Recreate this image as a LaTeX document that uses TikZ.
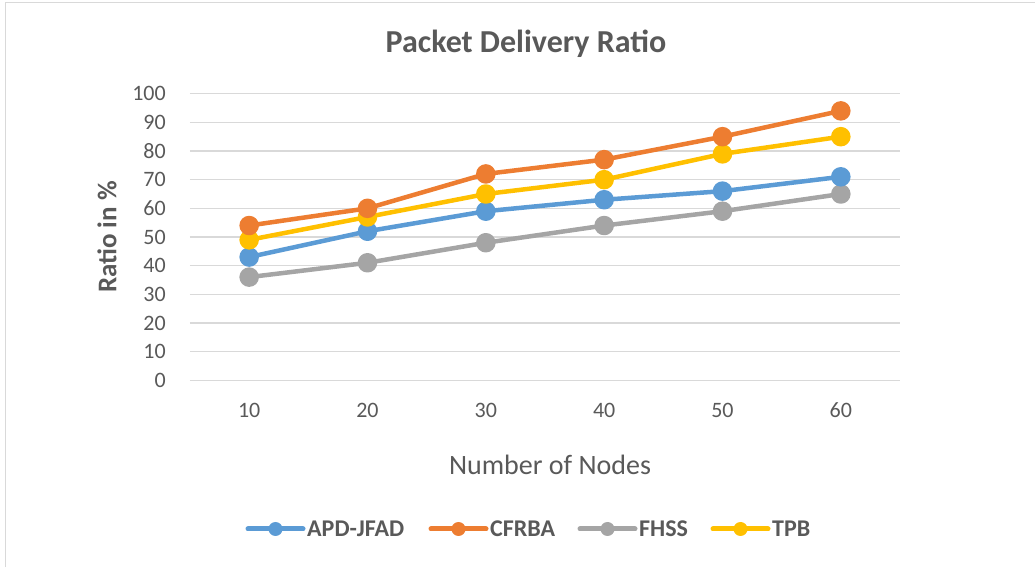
\documentclass[tikz,border=0pt]{standalone}
\usepackage{fontspec}
\setmainfont{Carlito}
\usetikzlibrary{positioning}

\definecolor{apdblue}{HTML}{5B9BD5}
\definecolor{cfrorange}{HTML}{ED7D31}
\definecolor{fhsgray}{HTML}{A5A5A5}
\definecolor{tpbyellow}{HTML}{FFC000}
\definecolor{gridgray}{HTML}{D9D9D9}
\definecolor{textgray}{HTML}{595959}

\tikzset{
  series/.style={line width=4.5pt, line cap=round, line join=round,
    mark=*, mark size=7.5pt, mark options={solid, fill=#1, draw=#1}, draw=#1},
  ticklabel/.style={text=textgray, font=\fontsize{22}{26}\selectfont, inner sep=0pt},
  legendtext/.style={text=textgray, font=\fontsize{24}{28}\selectfont\bfseries,
    inner sep=0pt, anchor=west}
}

\begin{document}
\begin{tikzpicture}[x=1pt, y=1pt]
    \useasboundingbox (0,0) rectangle (1035,567);
    % --- chart frame ---
    \draw[gridgray, line width=1.5pt] (5.5,0) -- (5.5,564.5) -- (1035,564.5);

    % --- title and axis titles ---
    \node[text=textgray, font=\fontsize{32}{36}\selectfont\bfseries] (title) at (526,523) {Packet Delivery Ratio};
    \node[text=textgray, font=\fontsize{27}{31}\selectfont\bfseries, rotate=90] (ylabel) at (107,330) {Ratio in \%};
    \node[text=textgray, font=\fontsize{28}{32}\selectfont] (xlabel) at (550,102) {Number of Nodes};

    \begin{scope}[shift={(130.83,186.7)}, x=11.833pt, y=2.866pt]
        % --- grid lines and y ticks ---
        \foreach \ypos in {0,10,...,100} {
            \draw[gridgray, line width=1.5pt] (5,\ypos) -- (65,\ypos);
            \node[ticklabel, anchor=east] (ytick\ypos) at (2.97,\ypos) {\ypos};
        }
        % --- x ticks ---
        \foreach \xpos in {10,20,...,60} {
            \node[ticklabel] (xtick\xpos) at (\xpos,-10.4) {\xpos};
        }

        % --- data series ---
        \draw[series=fhsgray] plot coordinates {(10,36) (20,41) (30,48) (40,54) (50,59) (60,65)};
        \draw[series=apdblue] plot coordinates {(10,43) (20,52) (30,59) (40,63) (50,66) (60,71)};
        \draw[series=tpbyellow] plot coordinates {(10,49) (20,57) (30,65) (40,70) (50,79) (60,85)};
        \draw[series=cfrorange] plot coordinates {(10,54) (20,60) (30,72) (40,77) (50,85) (60,94)};
    \end{scope}

    % --- legend ---
    \foreach \lx/\col/\name/\lbl in {248/apdblue/apd/APD-JFAD, 431/cfrorange/cfr/CFRBA,
                                     580/fhsgray/fhs/FHSS, 713/tpbyellow/tpb/TPB} {
        \coordinate (\name start) at (\lx,38);
        \coordinate (\name mid) at (\lx+27.5,38);
        \coordinate (\name end) at (\lx+55,38);
        \draw[\col, line width=5pt, line cap=round] (\name start) -- (\name end);
        \fill[\col] (\name mid) circle (7pt);
        \node[legendtext, right=4pt of \name end] (\name text) {\lbl};
    }
\end{tikzpicture}
\end{document}
